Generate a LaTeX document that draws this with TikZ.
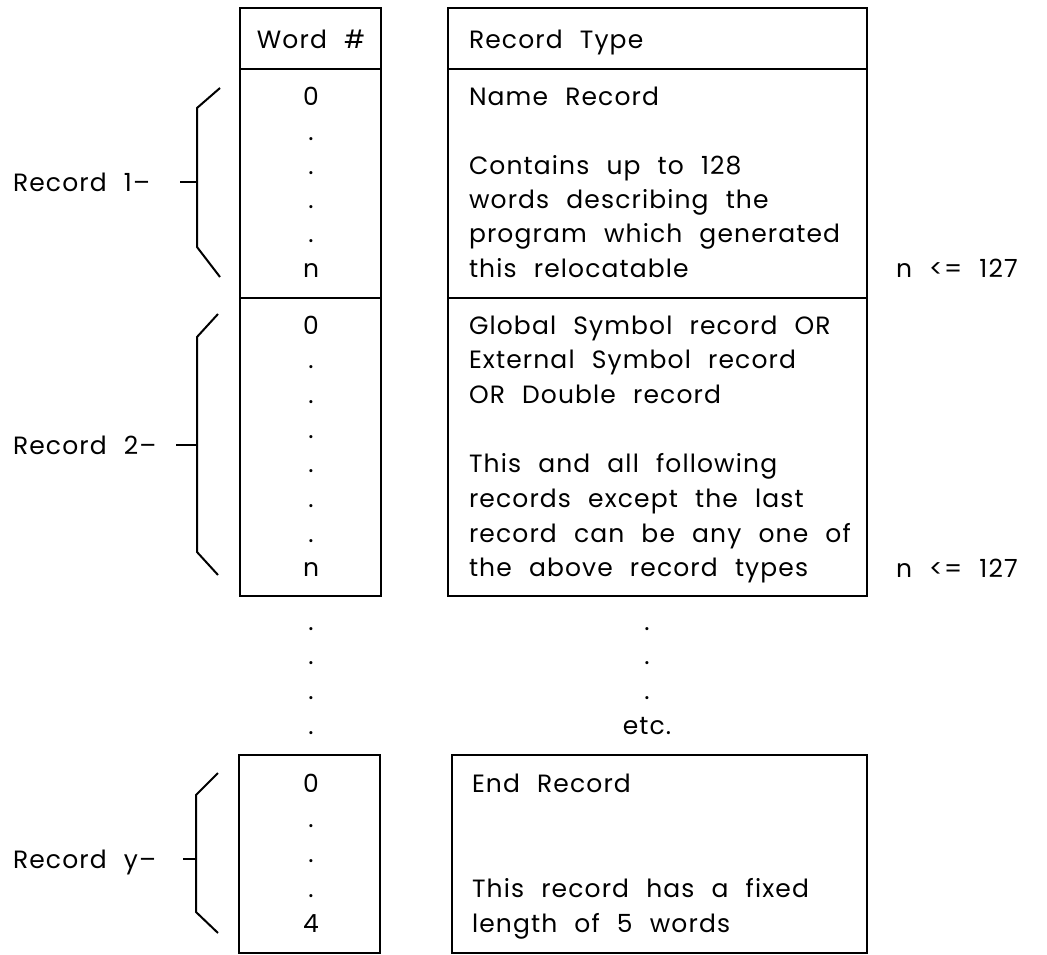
\documentclass[tikz,border=0pt]{standalone}
\usepackage{fontspec}
\setmainfont{Poppins}[LetterSpace=4.5,WordSpace=2.2]
\tikzstyle{cell}=[anchor=base, inner sep=0pt]
\tikzstyle{txt}=[anchor=base west, inner sep=0pt]
\newcommand{\cell}{\node[cell]}
\newcommand{\txt}{\node[txt]}

\begin{document}
\begin{tikzpicture}[x=1pt, y=-1pt, line width=2pt
    ,font=\fontsize{25}{30}\selectfont
]
\useasboundingbox (0,0) rectangle (1047,955);
% word column and record type column
\draw (240,8) rectangle (381,596);
\draw (240,69) -- (381,69) (240,298) -- (381,298);
\draw (448,8) rectangle (867,596);
\draw (448,69) -- (867,69) (448,298) -- (867,298);
\draw (239,755) rectangle (380,953);
\draw (452,755) rectangle (867,953);
% headers
\cell (word) at (311,49) {Word \#};
\txt (type) at (468,49) {Record Type};
% record 1
\foreach \t [count=\i from 0] in {0,.,.,.,.,n}
  \cell (a\i) at (311,106+34.2*\i) {\t};
\foreach \k/\t in {0/Name Record,2/Contains up to 128,3/words describing the,
    4/program which generated,5/this relocatable}
  \txt (ta\k) at (468,106+34.2*\k) {\t};
\txt (na) at (895,277) {n <= 127};
% record 2
\foreach \t [count=\i from 0] in {0,.,.,.,.,.,.,n}
  \cell (b\i) at (311,334+34.7*\i) {\t};
\foreach \k/\t in {0/Global Symbol record OR,1/External Symbol record,
    2/OR Double record,4/This and all following,5/records except the last,
    6/record can be any one of,7/the above record types}
  \txt (tb\k) at (468,334+34.7*\k) {\t};
\txt (nb) at (895,577) {n <= 127};
% gap
\foreach \i in {0,...,3}
  \cell (g\i) at (311,630+34.7*\i) {.};
\foreach \i in {0,...,2}
  \cell (h\i) at (647,630+34.7*\i) {.};
\cell (etc) at (647,734) {etc.};
% record y
\foreach \t [count=\i from 0] in {0,.,.,.,4}
  \cell (c\i) at (311,792+35*\i) {\t};
\foreach \k/\t in {0/End Record,3/This record has a fixed,4/length of 5 words}
  \txt (tc\k) at (471,792+35*\k) {\t};
% brackets
\txt (r1) at (12,191) {Record 1--};
\coordinate (k1) at (197,182);
\draw (220,88) -- (197,108) -- (197,247) -- (220,277);
\draw (180,182) -- (k1);
\txt (r2) at (12,454) {Record 2--};
\coordinate (k2) at (197,445);
\draw (218,314) -- (197,337) -- (197,552) -- (218,575);
\draw (176,445) -- (k2);
\txt (ry) at (12,868) {Record y--};
\coordinate (ky) at (196,859);
\draw (218,773) -- (196,795) -- (196,912) -- (218,933);
\draw (183,859) -- (ky);
\end{tikzpicture}
\end{document}
